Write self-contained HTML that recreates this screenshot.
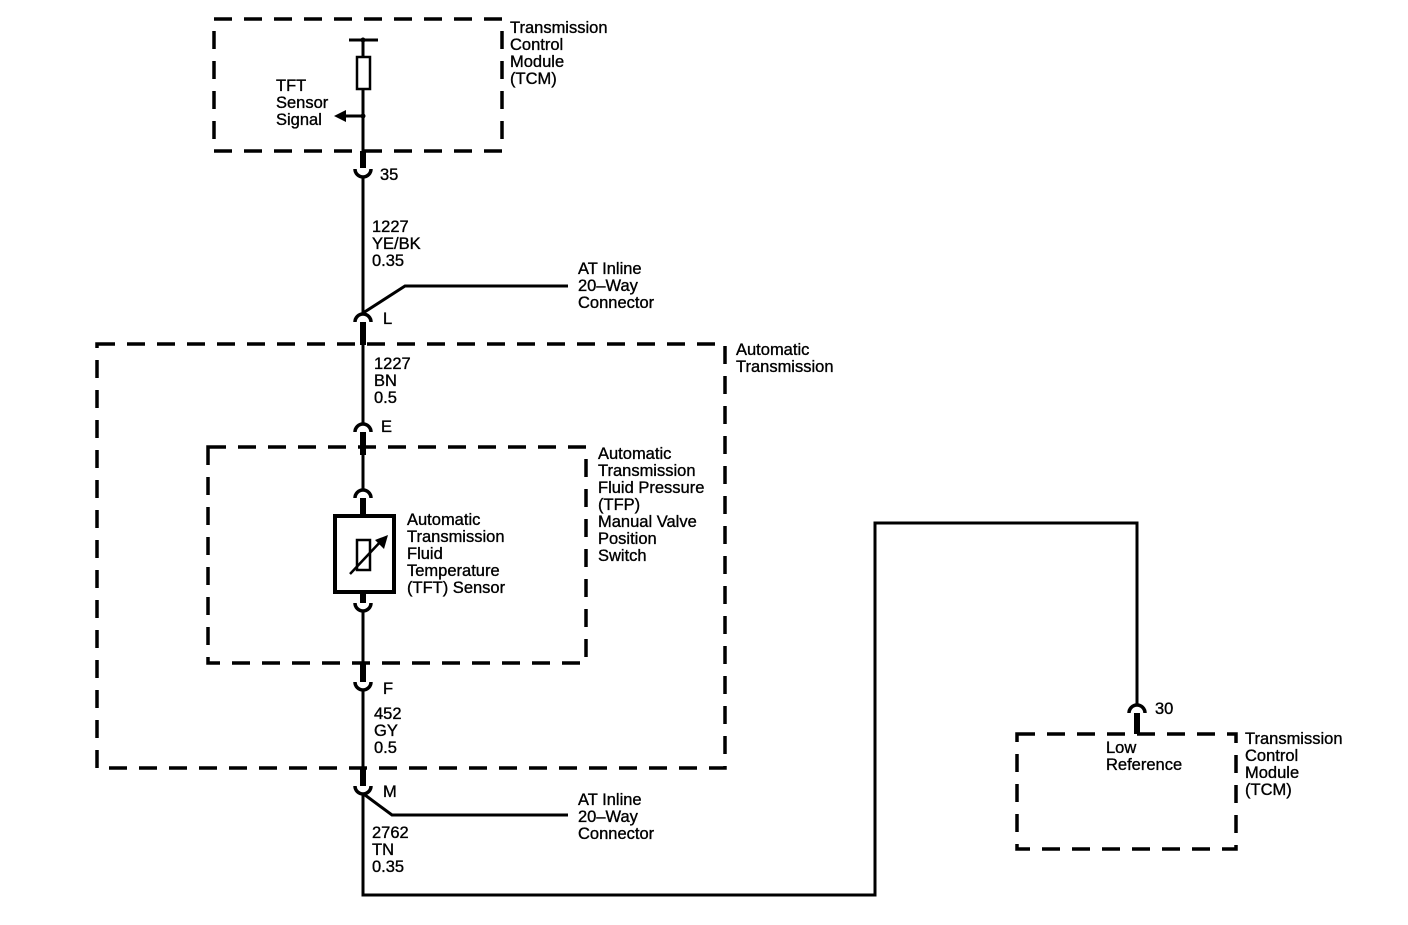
<!DOCTYPE html>
<html><head><style>
html,body{margin:0;padding:0;background:#fff}
svg text{font-family:"Liberation Sans",Arial,sans-serif;font-size:16.5px;fill:#000;stroke:#000;stroke-width:0.35}
</style></head><body>
<svg width="1408" height="920" viewBox="0 0 1408 920" xmlns="http://www.w3.org/2000/svg">
<g fill="none" stroke="#000" stroke-width="3.5" stroke-dasharray="18 12">
<rect x="214" y="19" width="288" height="132"/>
<rect x="97" y="344" width="628" height="424"/>
<rect x="208" y="447" width="378" height="216"/>
<rect x="1017" y="734" width="219" height="115"/>
</g>
<g fill="none" stroke="#000" stroke-width="3">
<line x1="349" y1="40" x2="378" y2="40"/>
<line x1="363" y1="38" x2="363" y2="57"/>
<rect x="357" y="57" width="13" height="32" stroke-width="2.5"/>
<line x1="363" y1="89" x2="363" y2="168"/>
<line x1="346" y1="116" x2="363" y2="116"/>
<g stroke-width="3.5">
<path d="M355 169 A8 8 0 0 0 371 169"/>
<path d="M355 322 A8 8 0 0 1 371 322"/>
<path d="M355 432 A8 8 0 0 1 371 432"/>
<path d="M355 498 A8 8 0 0 1 371 498"/>
<path d="M355 603 A8 8 0 0 0 371 603"/>
<path d="M355 682 A8 8 0 0 0 371 682"/>
<path d="M355 786 A8 8 0 0 0 371 786"/>
<path d="M1129 713 A8 8 0 0 1 1145 713"/>
</g>
<line x1="363" y1="177" x2="363" y2="313"/>
<polyline points="363,313 405,286 568,286"/>
<line x1="363" y1="345" x2="363" y2="423"/>
<line x1="363" y1="455" x2="363" y2="489"/>
<rect x="335" y="516" width="59" height="76" stroke-width="4"/>
<rect x="357" y="540" width="13" height="30" stroke-width="2.5"/>
<line x1="350" y1="574" x2="382" y2="540" stroke-width="2.5"/>
<line x1="363" y1="611" x2="363" y2="663"/>
<line x1="363" y1="690" x2="363" y2="768"/>
<polyline points="365,795 392,815 568,815"/>
<polyline points="363,794 363,895 875,895 875,523 1137,523 1137,704"/>
</g>
<g stroke="#000" stroke-width="6">
<line x1="363" y1="151" x2="363" y2="168"/>
<line x1="363" y1="322" x2="363" y2="345"/>
<line x1="363" y1="432" x2="363" y2="455"/>
<line x1="363" y1="498" x2="363" y2="516"/>
<line x1="363" y1="592" x2="363" y2="603"/>
<line x1="363" y1="663" x2="363" y2="682"/>
<line x1="363" y1="768" x2="363" y2="786"/>
<line x1="1137" y1="713" x2="1137" y2="734"/>
</g>
<circle cx="363" cy="40" r="2.5"/>
<circle cx="363" cy="116" r="2.5"/>
<polygon points="334,116 346,110 346,122"/>
<polygon points="388,535 375,540 384,549"/>
<g>
<text x="510" y="33">Transmission</text><text x="510" y="50">Control</text><text x="510" y="67">Module</text><text x="510" y="84">(TCM)</text>
<text x="276" y="91">TFT</text><text x="276" y="108">Sensor</text><text x="276" y="125">Signal</text>
<text x="380" y="180">35</text>
<text x="372" y="232">1227</text><text x="372" y="249">YE/BK</text><text x="372" y="266">0.35</text>
<text x="578" y="274">AT Inline</text><text x="578" y="291">20–Way</text><text x="578" y="308">Connector</text>
<text x="383" y="324">L</text>
<text x="736" y="355">Automatic</text><text x="736" y="372">Transmission</text>
<text x="374" y="369">1227</text><text x="374" y="386">BN</text><text x="374" y="403">0.5</text>
<text x="381" y="432">E</text>
<text x="598" y="459">Automatic</text><text x="598" y="476">Transmission</text><text x="598" y="493">Fluid Pressure</text><text x="598" y="510">(TFP)</text><text x="598" y="527">Manual Valve</text><text x="598" y="544">Position</text><text x="598" y="561">Switch</text>
<text x="407" y="525">Automatic</text><text x="407" y="542">Transmission</text><text x="407" y="559">Fluid</text><text x="407" y="576">Temperature</text><text x="407" y="593">(TFT) Sensor</text>
<text x="383" y="694">F</text>
<text x="374" y="719">452</text><text x="374" y="736">GY</text><text x="374" y="753">0.5</text>
<text x="383" y="797">M</text>
<text x="578" y="805">AT Inline</text><text x="578" y="822">20–Way</text><text x="578" y="839">Connector</text>
<text x="372" y="838">2762</text><text x="372" y="855">TN</text><text x="372" y="872">0.35</text>
<text x="1155" y="714">30</text>
<text x="1106" y="753">Low</text><text x="1106" y="770">Reference</text>
<text x="1245" y="744">Transmission</text><text x="1245" y="761">Control</text><text x="1245" y="778">Module</text><text x="1245" y="795">(TCM)</text>
</g>
</svg>
</body></html>
